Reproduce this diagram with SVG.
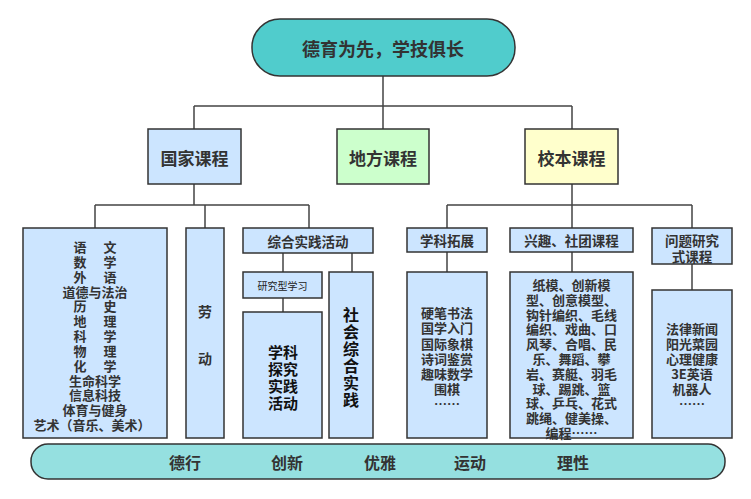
<svg xmlns="http://www.w3.org/2000/svg" width="751" height="499" viewBox="0 0 751 499">
<style>
text{font-family:"Noto Sans CJK SC","Noto Sans",sans-serif;font-weight:bold;fill:#333;text-anchor:middle;dominant-baseline:central}
.box{fill:#CCE5FF;stroke:#333;stroke-width:1.5}
.lv1{font-size:17px}
.t13{font-size:13px}
.blk{fill:#111;font-size:15px}
.con{fill:none;stroke:#444;stroke-width:1.5}
</style>
<rect width="751" height="499" fill="#fff"/>
<g id="connectors">
<path class="con" d="M383 76V106M194 106H572M194 106V129M383 106V129M572 106V129"/>
<path class="con" d="M194 184V205M95 205H309M95 205V228M205 205V228M309 205V228"/>
<path class="con" d="M283 253V272M352 253V272M283 298V312"/>
<path class="con" d="M572 184V205M447 205H692M447 205V228M572 205V228M692 205V228"/>
<path class="con" d="M447 252V272M572 252V272M692 264V290"/>
</g>
<g id="root">
<rect x="252" y="19" width="263" height="57" rx="28" fill="#50CCCC" stroke="#333" stroke-width="1.5"/>
<text x="383" y="48" style="font-size:18px">德育为先，学技俱长</text>
</g>
<g id="national">
<rect class="box" x="148" y="129" width="93" height="55"/>
<text class="lv1" x="194.5" y="157">国家课程</text>
</g>
<g id="local">
<rect x="337" y="129" width="92" height="55" fill="#CCFFCC" stroke="#333" stroke-width="1.5"/>
<text class="lv1" x="383" y="157">地方课程</text>
</g>
<g id="school">
<rect x="525" y="129" width="93" height="55" fill="#FFFFCC" stroke="#333" stroke-width="1.5"/>
<text class="lv1" x="571.5" y="157">校本课程</text>
</g>
<g id="subjects">
<rect class="box" x="23" y="228" width="144" height="210"/>
<text class="t13"><tspan x="80" y="246">语</tspan><tspan x="110" y="246">文</tspan><tspan x="80" y="260.8">数</tspan><tspan x="110" y="260.8">学</tspan><tspan x="80" y="275.7">外</tspan><tspan x="110" y="275.7">语</tspan><tspan x="95" y="290.5">道德与法治</tspan><tspan x="80" y="305.3">历</tspan><tspan x="110" y="305.3">史</tspan><tspan x="80" y="320.2">地</tspan><tspan x="110" y="320.2">理</tspan><tspan x="80" y="335">科</tspan><tspan x="110" y="335">学</tspan><tspan x="80" y="349.8">物</tspan><tspan x="110" y="349.8">理</tspan><tspan x="80" y="364.7">化</tspan><tspan x="110" y="364.7">学</tspan><tspan x="95" y="379.5">生命科学</tspan><tspan x="95" y="394.3">信息科技</tspan><tspan x="95" y="409.2">体育与健身</tspan><tspan x="92" y="424">艺术（音乐、美术）</tspan></text>
</g>
<g id="labor">
<rect class="box" x="186" y="228" width="38" height="210"/>
<text style="font-size:14px"><tspan x="205" y="311">劳</tspan><tspan x="205" y="358">动</tspan></text>
</g>
<g id="practice">
<rect class="box" x="243" y="228" width="130" height="25"/>
<text x="308" y="240.5" style="font-size:13.5px">综合实践活动</text>
</g>
<g id="research">
<rect class="box" x="243" y="272" width="79" height="26"/>
<text x="282.5" y="285" style="font-size:10px;font-weight:normal;fill:#222">研究型学习</text>
</g>
<g id="inquiry">
<rect class="box" x="243" y="312" width="79" height="126"/>
<text class="blk"><tspan x="283" y="351">学科</tspan><tspan x="283" y="368">探究</tspan><tspan x="283" y="385">实践</tspan><tspan x="283" y="402">活动</tspan></text>
</g>
<g id="social">
<rect class="box" x="329" y="272" width="44" height="166"/>
<text class="blk" style="font-size:16px"><tspan x="351" y="314">社</tspan><tspan x="351" y="331">会</tspan><tspan x="351" y="348">综</tspan><tspan x="351" y="365">合</tspan><tspan x="351" y="382">实</tspan><tspan x="351" y="399">践</tspan></text>
</g>
<g id="ext">
<rect class="box" x="407" y="228" width="80" height="24"/>
<text x="447" y="240" style="font-size:13.5px">学科拓展</text>
</g>
<g id="ext-list">
<rect class="box" x="407" y="272" width="80" height="166"/>
<text class="t13"><tspan x="447" y="312">硬笔书法</tspan><tspan x="447" y="327">国学入门</tspan><tspan x="447" y="343">国际象棋</tspan><tspan x="447" y="358">诗词鉴赏</tspan><tspan x="447" y="373">趣味数学</tspan><tspan x="447" y="388">围棋</tspan><tspan x="447" y="403">……</tspan></text>
</g>
<g id="club">
<rect class="box" x="510" y="228" width="123" height="24"/>
<text x="571.5" y="240" style="font-size:13.5px">兴趣、社团课程</text>
</g>
<g id="club-list">
<rect class="box" x="510" y="272" width="123" height="166"/>
<text class="t13"><tspan x="571.5" y="284">纸模、创新模</tspan><tspan x="571.5" y="299">型、创意模型、</tspan><tspan x="571.5" y="314">钩针编织、毛线</tspan><tspan x="571.5" y="328">编织、戏曲、口</tspan><tspan x="571.5" y="343">风琴、合唱、民</tspan><tspan x="571.5" y="358">乐、舞蹈、攀</tspan><tspan x="571.5" y="373">岩、赛艇、羽毛</tspan><tspan x="571.5" y="388">球、踢跳、篮</tspan><tspan x="571.5" y="402">球、乒乓、花式</tspan><tspan x="571.5" y="417">跳绳、健美操、</tspan><tspan x="571.5" y="432">编程……</tspan></text>
</g>
<g id="problem">
<rect class="box" x="652" y="228" width="80" height="36"/>
<text style="font-size:13.5px"><tspan x="692" y="240">问题研究</tspan><tspan x="692" y="256">式课程</tspan></text>
</g>
<g id="problem-list">
<rect class="box" x="652" y="290" width="80" height="148"/>
<text class="t13"><tspan x="692" y="328">法律新闻</tspan><tspan x="692" y="343">阳光菜园</tspan><tspan x="692" y="358">心理健康</tspan><tspan x="692" y="373">3E英语</tspan><tspan x="692" y="388">机器人</tspan><tspan x="692" y="403">……</tspan></text>
</g>
<g id="values">
<rect x="31" y="444" width="694" height="35" rx="17" fill="#95E0E0" stroke="#333" stroke-width="1.5"/>
<g style="font-size:16px">
<text x="185" y="462">德行</text><text x="287" y="462">创新</text>
<text x="380" y="462">优雅</text><text x="470" y="462">运动</text>
<text x="573" y="462">理性</text>
</g>
</g>
</svg>
